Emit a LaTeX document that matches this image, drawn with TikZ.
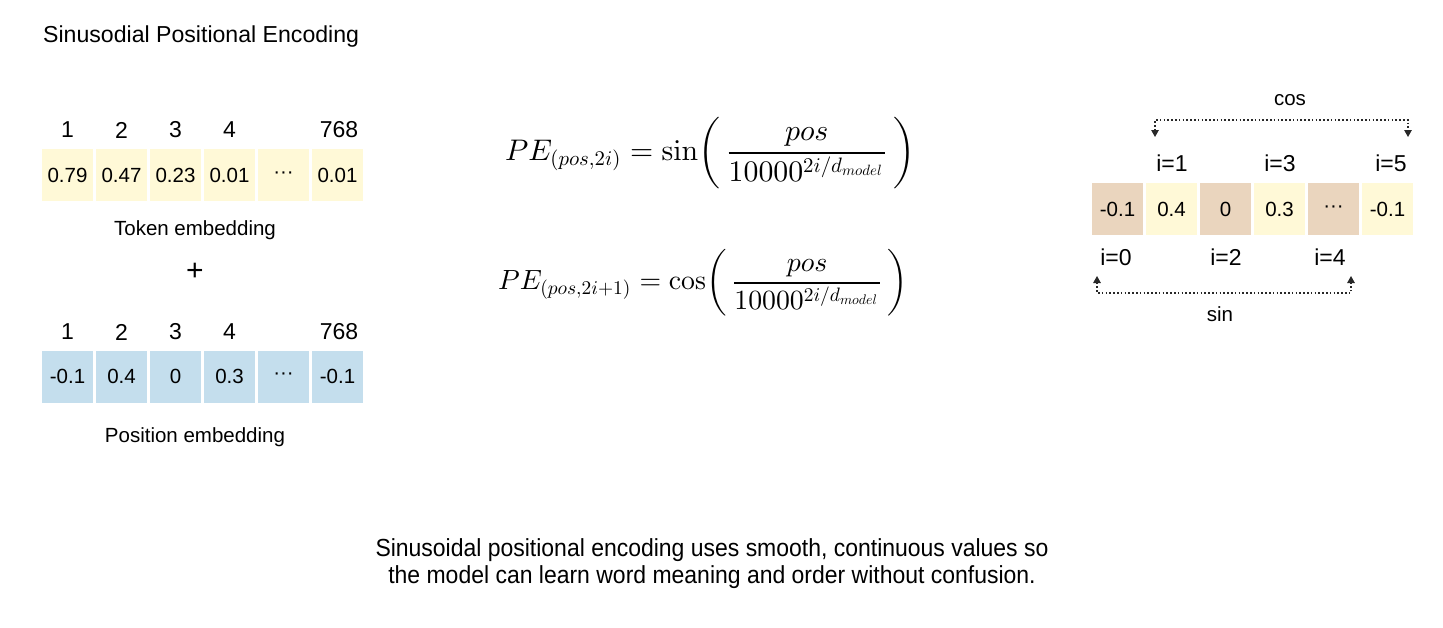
\documentclass[tikz,border=0pt]{standalone}
\usepackage[no-math]{fontspec}
\setmainfont{Liberation Sans}
\newfontfamily\narrowfont[FakeStretch=0.93]{Liberation Sans}
\usepackage{graphicx}
\DeclareFontShape{OML}{cmm}{m}{it}{<->cmmi10}{}
\DeclareFontShape{OT1}{cmr}{m}{n}{<->cmr10}{}
\usetikzlibrary{arrows.meta}
\definecolor{celly}{RGB}{255,249,215}
\definecolor{cellb}{RGB}{196,222,237}
\definecolor{cellr}{RGB}{234,213,190}
\definecolor{linec}{RGB}{40,40,40}
\tikzset{
  cellbox/.style={minimum width=51pt,minimum height=52pt,inner sep=0pt,draw=none,font=\fontsize{20.5}{24}\selectfont},
  ycell/.style={cellbox,fill=celly},
  bcell/.style={cellbox,fill=cellb},
  rcell/.style={cellbox,fill=cellr},
  idx/.style={inner sep=0pt,font=\fontsize{23}{27}\selectfont},
  lbl/.style={inner sep=0pt,font=\fontsize{20.5}{24}\selectfont},
  formula/.style={inner sep=0pt,anchor=west},
  conn/.style={draw=linec,line width=1.3pt,dash pattern=on 1.6pt off 2.2pt,{Triangle[width=7.5pt,length=7pt]}-{Triangle[width=7.5pt,length=7pt]}}
}
\begin{document}
\begin{tikzpicture}[x=1pt,y=-1pt]
\useasboundingbox (0,0) rectangle (1443,627);
\fill[white] (0,0) rectangle (1443,627);
% title
\node[anchor=west,inner sep=0pt,font=\fontsize{23.1}{27}\selectfont] (title) at (43,37) {Sinusodial Positional Encoding};
% token embedding row
\foreach \v [count=\i from 0] in {0.79,0.47,0.23,0.01,\textperiodcentered\textperiodcentered\textperiodcentered,0.01}{
  \node[ycell] (t\i) at ({67.5+54*\i},175) {\v};
}
\foreach \v [count=\i from 0] in {1,2,3,4}{
  \node[idx] (th\i) at ({67.5+54*\i},130) {\v};
}
\node[idx] (th5) at (339,130) {768};
\node[lbl] (tlab) at (195,230) {Token embedding};
\node[inner sep=0pt,font=\fontsize{30}{32}\selectfont] (plus) at (195,272) {+};
% position embedding row
\foreach \v [count=\i from 0] in {-0.1,0.4,0,0.3,\textperiodcentered\textperiodcentered\textperiodcentered,-0.1}{
  \node[bcell] (p\i) at ({67.5+54*\i},376.5) {\v};
}
\foreach \v [count=\i from 0] in {1,2,3,4}{
  \node[idx] (ph\i) at ({67.5+54*\i},332) {\v};
}
\node[idx] (ph5) at (339,332) {768};
\node[lbl] (plab) at (195,437) {Position embedding};
% formulas
\node[formula] (f1) at (505,153) {\resizebox{410pt}{!}{$\displaystyle PE_{(pos,2i)} = \sin\biggl(\,\frac{pos}{10000^{2i/d_{model}}}\,\biggr)$}};
\node[formula] (f2) at (498,283) {\resizebox{410pt}{!}{$\displaystyle PE_{(pos,2i+1)} = \cos\biggl(\,\frac{pos}{10000^{2i/d_{model}}}\,\biggr)$}};
% right row
\node[rcell] (r0) at (1117.5,209) {-0.1};
\node[ycell] (r1) at (1171.5,209) {0.4};
\node[rcell] (r2) at (1225.5,209) {0};
\node[ycell] (r3) at (1279.5,209) {0.3};
\node[rcell] (r4) at (1333.5,209) {\textperiodcentered\textperiodcentered\textperiodcentered};
\node[ycell] (r5) at (1387.5,209) {-0.1};
\node[idx] (i1) at (1172,163) {i=1};
\node[idx] (i3) at (1280,163) {i=3};
\node[idx] (i5) at (1391,163) {i=5};
\node[idx] (i0) at (1116,257) {i=0};
\node[idx] (i2) at (1226,257) {i=2};
\node[idx] (i4) at (1330,257) {i=4};
\node[lbl] (cos) at (1290,100) {cos};
\node[lbl] (sin) at (1220,314) {sin};
\coordinate (ca) at (1155,137);
\coordinate (cb) at (1408,137);
\coordinate (sa) at (1097,276);
\coordinate (sb) at (1351,276);
\draw[conn] (ca) -- (ca |- 0,120) -- (cb |- 0,120) -- (cb);
\draw[conn] (sa) -- (sa |- 0,293) -- (sb |- 0,293) -- (sb);
% bottom text
\node[inner sep=0pt,align=center,font=\narrowfont\fontsize{24.7}{27}\selectfont] (note) at (712,564) {Sinusoidal positional encoding uses smooth, continuous values so\\the model can learn word meaning and order without confusion.};
\end{tikzpicture}
\end{document}
